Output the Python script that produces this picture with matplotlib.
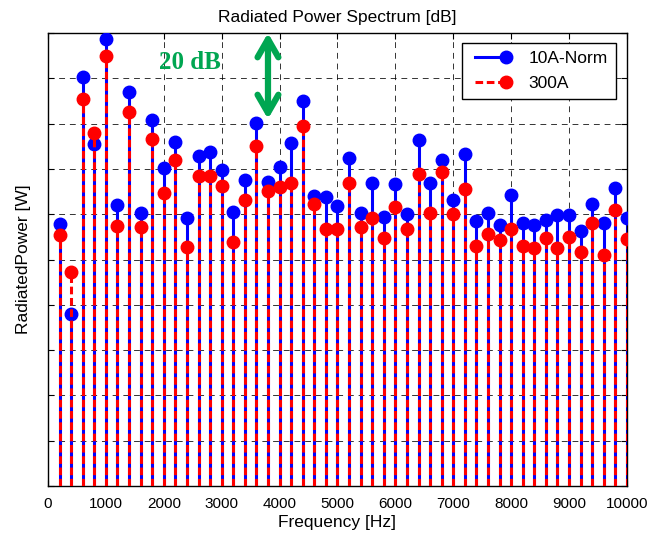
import matplotlib
matplotlib.use("Agg")
import matplotlib.pyplot as plt
from matplotlib.lines import Line2D
from matplotlib.legend_handler import HandlerLine2D

freqs = [200, 400, 600, 800, 1000, 1200, 1400, 1600, 1800, 2000,
         2200, 2400, 2600, 2800, 3000, 3200, 3400, 3600, 3800, 4000,
         4200, 4400, 4600, 4800, 5000, 5200, 5400, 5600, 5800, 6000,
         6200, 6400, 6600, 6800, 7000, 7200, 7400, 7600, 7800, 8000,
         8200, 8400, 8600, 8800, 9000, 9200, 9400, 9600, 9800, 10000]

norm10A = [57.8, 37.9, 90.2, 75.5, 98.7, 62.0, 87.0, 60.3, 80.8, 70.3,
           75.9, 59.2, 72.8, 73.8, 69.8, 60.4, 67.5, 80.2, 67.0, 70.5,
           75.7, 85.0, 64.1, 63.9, 61.8, 72.4, 60.3, 66.8, 59.4, 66.6,
           60.0, 76.4, 66.8, 72.0, 63.1, 73.2, 58.6, 60.3, 57.6, 64.2,
           58.0, 57.6, 58.7, 59.8, 59.8, 56.4, 62.2, 58.0, 65.7, 59.2]

a300A = [55.4, 47.2, 85.4, 77.9, 94.9, 57.4, 82.5, 57.1, 76.5, 64.6,
         72.0, 52.7, 68.5, 68.5, 66.3, 53.9, 63.1, 75.1, 65.1, 65.9,
         66.8, 79.5, 62.2, 56.7, 56.7, 66.8, 57.2, 59.1, 54.7, 61.5,
         56.7, 68.8, 60.3, 69.4, 60.0, 65.6, 53.0, 55.6, 54.2, 56.7,
         53.0, 52.6, 54.7, 52.5, 55.0, 51.6, 58.0, 51.0, 60.9, 54.5]

series_labels = ['10A-Norm', '300A']
xticks = list(range(0, 10001, 1000))
yticks = list(range(0, 101, 10))

plt.rcParams['font.family'] = ['Liberation Sans', 'DejaVu Sans']


class EndMarkerHandler(HandlerLine2D):
    def create_artists(self, legend, orig_handle, xdescent, ydescent,
                       width, height, fontsize, trans):
        artists = super().create_artists(legend, orig_handle, xdescent, ydescent,
                                         width, height, fontsize, trans)
        for a in artists:
            n = len(a.get_xdata())
            a.set_markevery([n - 1])
        return artists


fig = plt.figure(figsize=(6.62, 5.39), dpi=100)
ax = fig.add_axes([0.0725, 0.0983, 0.8745, 0.8405])

ms = 9.0
red_dash = (0, (2.5, 1.2))
# blue series
m1, s1, b1 = ax.stem(freqs, norm10A, basefmt=' ')
s1.set_color('#0000ff'); s1.set_linewidth(2.2); s1.set_zorder(2)
m1.set_color('#0000ff'); m1.set_markersize(ms); m1.set_marker('o'); m1.set_zorder(3)
# red series
m2, s2, b2 = ax.stem(freqs, a300A, basefmt=' ')
s2.set_color('#ff0000'); s2.set_linewidth(2.2); s2.set_linestyle(red_dash); s2.set_zorder(4)
m2.set_color('#ff0000'); m2.set_markersize(ms); m2.set_marker('o'); m2.set_zorder(5)

ax.set_xlim(0, 10000)
ax.set_ylim(0, 100)
ax.set_xticks(xticks)
ax.set_xticklabels([str(t) for t in xticks], fontsize=11)
ax.set_yticks(yticks)
ax.set_yticklabels([])
ax.tick_params(direction='in', top=True, right=True, length=4, width=0.8)
ax.tick_params(axis='x', pad=8)
ax.grid(True, color='black', linestyle=(0, (6, 5)), linewidth=0.7, alpha=0.8)
ax.set_axisbelow(True)
for sp in ax.spines.values():
    sp.set_linewidth(1.0)

ax.set_title('Radiated Power Spectrum [dB]', fontsize=12.5, pad=8)
ax.set_xlabel('Frequency [Hz]', fontsize=12.5, labelpad=3)
ax.set_ylabel('RadiatedPower [W]', fontsize=12.5, labelpad=9)

h1 = Line2D([0], [0], color='#0000ff', lw=2.2, marker='o', markersize=ms)
h2 = Line2D([0], [0], color='#ff0000', lw=2.2, linestyle=red_dash, marker='o',
            markersize=ms)
leg = ax.legend([h1, h2], series_labels, loc='upper right', fontsize=12.5, numpoints=2,
                handler_map={Line2D: EndMarkerHandler()},
                fancybox=False, edgecolor='black', framealpha=1, borderpad=0.45,
                handlelength=2.4, handletextpad=1.0, labelspacing=0.6,
                borderaxespad=0, bbox_to_anchor=(0.981, 0.978))
leg.get_frame().set_linewidth(1.0)

ax.text(2450, 93.4, '20 dB', color='#00a651', fontsize=18, fontweight='bold',
        family=['Liberation Serif', 'DejaVu Serif'], ha='center', va='center')
ax.annotate('', xy=(3800, 100), xytext=(3800, 81.0), annotation_clip=False,
            arrowprops=dict(arrowstyle='<->, head_length=1.3, head_width=0.75',
                            color='#00a651', lw=4.5, shrinkA=0, shrinkB=0))

fig.savefig('out.png', dpi=100)
